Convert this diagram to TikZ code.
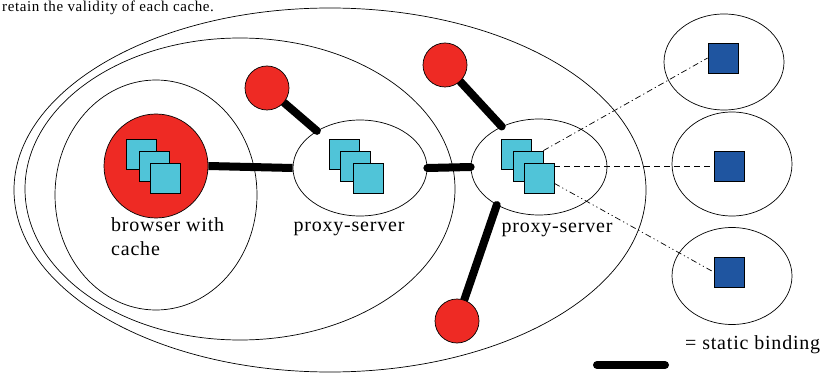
\documentclass[tikz,border=0pt]{standalone}
\usepackage{fontspec}
\setmainfont{Liberation Serif}[LetterSpace=4]
\usetikzlibrary{shapes.geometric,backgrounds}
\definecolor{cred}{HTML}{EE2A24}
\definecolor{ccyan}{HTML}{50C4D8}
\definecolor{cblue}{HTML}{1F55A0}
\tikzset{
  region/.style={draw, ellipse, line width=0.7pt, inner sep=0pt},
  reddot/.style={draw, circle, fill=cred, line width=0.7pt, inner sep=0pt, minimum size=44pt},
  doc/.style={draw, rectangle, fill=ccyan, line width=0.8pt, inner sep=0pt, minimum size=30pt},
  obj/.style={draw, rectangle, fill=cblue, line width=0.8pt, inner sep=0pt, minimum size=30pt},
  bind/.style={line width=8pt},
  lbl/.style={font=\fontsize{20}{24}\selectfont, inner sep=0pt},
  dashA/.style={line width=0.7pt, dash pattern=on 6pt off 3pt on 1.2pt off 3pt},
  dashB/.style={line width=0.7pt, dash pattern=on 6pt off 4pt},
  dashC/.style={line width=0.7pt, dash pattern=on 6pt off 3pt on 1.2pt off 3pt on 1.2pt off 3pt}
}
\begin{document}
\begin{tikzpicture}[x=1pt,y=-1pt]
\useasboundingbox (0,0) rectangle (824,374);
% caption text at top
\node[anchor=base west, font=\fontsize{15}{18}\selectfont, inner sep=0pt] (cap) at (2,12) {retain the validity of each cache.};
% regions
\node[region, minimum width=632pt, minimum height=364pt] (outer) at (330,190) {};
\node[region, minimum width=430pt, minimum height=302pt] (mid) at (240,189) {};
\node[region, minimum width=202pt, minimum height=230pt] (brow) at (156,195) {};
\node[region, minimum width=134pt, minimum height=96pt] (p1) at (360,168) {};
\node[region, minimum width=136pt, minimum height=96pt] (p2) at (539,167) {};
\node[region, minimum width=120pt, minimum height=96pt] (e1) at (724,62) {};
\node[region, minimum width=120pt, minimum height=104pt] (e2) at (732,164) {};
\node[region, minimum width=120pt, minimum height=97pt] (e3) at (732,276) {};
% browser cache
\node[reddot, minimum size=104pt] (bro) at (156,166) {};
\node[doc] (q0a) at (141.5,154.5) {};
\node[doc] (q0b) at (154,166) {};
\node[doc] (q0c) at (165.5,178) {};
% proxy 1
\node[doc] (q1a) at (344,154.5) {};
\node[doc] (q1b) at (355,166) {};
\node[doc] (q1c) at (368,178) {};
% proxy 2
\node[doc] (q2a) at (516,154) {};
\node[doc] (q2b) at (528,166) {};
\node[doc] (q2c) at (539,178) {};
% red clients
\node[reddot] (r1) at (267,88) {};
\node[reddot] (r2) at (445,65) {};
\node[reddot] (r3) at (457,321) {};
% objects
\node[obj] (b1) at (723,58) {};
\node[obj] (b2) at (729,166) {};
\node[obj] (b3) at (729,272) {};
% labels
\node[lbl, anchor=north west, align=left] (lb0) at (111,217) {browser with\\cache};
\node[lbl, anchor=base] (lb1) at (349,231) {proxy-server};
\node[lbl, anchor=base] (lb2) at (557,232) {proxy-server};
% legend
\coordinate (lg1) at (597,365);
\coordinate (lg2) at (665,365);
\draw[bind, line cap=round] (lg1) -- (lg2);
\node[lbl, anchor=base west] (lgt) at (685,349) {= static binding};
\begin{pgfonlayer}{background}
  \draw[bind] (bro.east) -- (p1.west);
  \draw[bind, line cap=round] (p1.east) -- (p2.west);
  \draw[bind, line cap=round] (r1) -- (p1);
  \draw[bind, line cap=round] (r2) -- (p2);
  \draw[bind, line cap=round] (r3) -- (p2.222);
  \draw[dashA] (q2b.north east) -- (b1.west);
  \draw[dashB] (q2c.east |- b2.west) -- (b2.west);
  \draw[dashC] ([yshift=10pt]q2c.south east) -- (b3.west);
\end{pgfonlayer}
\end{tikzpicture}
\end{document}
